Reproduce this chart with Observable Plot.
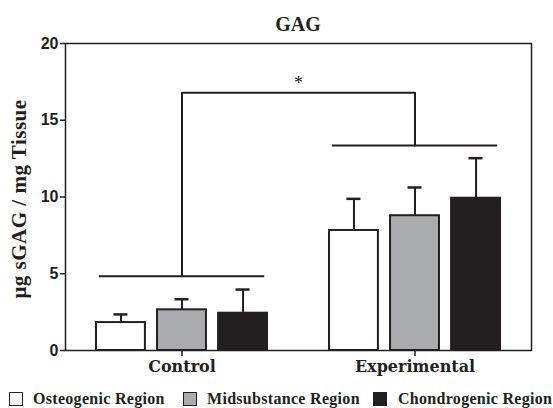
<!DOCTYPE html>
<html>
<head>
<meta charset="utf-8">
<script src="https://cdn.jsdelivr.net/npm/d3@7"></script>
<script src="https://cdn.jsdelivr.net/npm/@observablehq/plot@0.6"></script>
<style>
  html, body { margin: 0; padding: 0; background: #fff; }
  #wrap { position: relative; width: 553px; height: 408px; overflow: hidden; background: #fff; }
  #title { position: absolute; top: 14px; left: 65px; width: 466px; text-align: center;
    font: bold 20px "Liberation Serif", serif; line-height: 20px; color: #231f20; }
  #ylabel { position: absolute; left: 19px; top: 199px; transform: translate(-50%, -50%) rotate(-90deg);
    white-space: nowrap; font: bold 21px "Liberation Serif", serif; letter-spacing: 0.5px; color: #231f20; }
  #chart { position: absolute; left: 0; top: 0; }
  .sw { position: absolute; top: 392px; width: 12px; height: 12px; border: 1.5px solid #231f20; }
  .lt { position: absolute; top: 391px; font: bold 16px "Liberation Serif", serif; letter-spacing: 0.3px;
    color: #231f20; white-space: nowrap; line-height: 16px; }
</style>
</head>
<body>
<div id="wrap">
  <div id="chart"></div>
  <div id="title">GAG</div>
  <div id="ylabel">μg sGAG / mg Tissue</div>
  <div id="legend"></div>
</div>
<script>
// ---- data ----
const groups = ["Control", "Experimental"];
const regions = ["Osteogenic Region", "Midsubstance Region", "Chondrogenic Region"];
const regionColors = ["#ffffff", "#abacaf", "#231f20"];
const controlMean = [1.82, 2.65, 2.43];
const controlErr = [0.53, 0.69, 1.54];
const experimentalMean = [7.82, 8.78, 9.92];
const experimentalErr = [2.06, 1.84, 2.61];
const groupBarLevel = [4.84, 13.36];   // horizontal lines over each group
const bracketLevel = 16.79;            // top significance bracket
const yTicks = [0, 5, 10, 15, 20];
const sigLabel = "*";

// ---- table ----
const means = [controlMean, experimentalMean];
const errs = [controlErr, experimentalErr];
const spacing = 0.262, barW = 0.21, capHalf = 0.03, groupHalf = 0.355;
const rows = [];
groups.forEach((g, gi) => regions.forEach((r, ri) => {
  const c = gi + (ri - 1) * spacing;
  rows.push({group: g, region: r, c, mean: means[gi][ri], top: means[gi][ri] + errs[gi][ri]});
}));
const bracketPath = [
  {x: 0, y: groupBarLevel[0]}, {x: 0, y: bracketLevel},
  {x: 1, y: bracketLevel}, {x: 1, y: groupBarLevel[1]}
];
const groupLines = groups.map((g, gi) => ({x1: gi - groupHalf, x2: gi + groupHalf, y: groupBarLevel[gi]}));

const ink = "#231f20";
const plot = Plot.plot({
  width: 553, height: 380,
  marginTop: 43, marginBottom: 30, marginLeft: 65, marginRight: 22,
  x: {type: "linear", domain: [-0.5, 1.5]},
  y: {domain: [0, 20]},
  color: {domain: regions, range: regionColors},
  style: {background: "transparent", color: ink},
  marks: [
    Plot.rectY(rows, {x1: d => d.c - barW / 2, x2: d => d.c + barW / 2, y1: 0, y2: "mean",
      fill: "region", stroke: ink, strokeWidth: 2}),
    Plot.ruleX(rows, {x: "c", y1: "mean", y2: "top", stroke: ink, strokeWidth: 2}),
    Plot.ruleY(rows, {y: "top", x1: d => d.c - capHalf, x2: d => d.c + capHalf, stroke: ink, strokeWidth: 2.5}),
    Plot.ruleY(groupLines, {y: "y", x1: "x1", x2: "x2", stroke: ink, strokeWidth: 2}),
    Plot.line(bracketPath, {x: "x", y: "y", stroke: ink, strokeWidth: 2}),
    Plot.text([sigLabel], {x: () => 0.5, y: () => bracketLevel, text: d => d, lineAnchor: "bottom", dy: -4,
      fontSize: 18, fontFamily: "Liberation Serif", fill: ink}),
    Plot.frame({stroke: ink, strokeWidth: 1.5}),
    Plot.axisY({ticks: yTicks, tickSize: 5, tickPadding: 2, label: null, stroke: ink, strokeWidth: 1.5,
      fontSize: 16, fontWeight: "bold", fontFamily: "Liberation Sans", fill: ink}),
    Plot.axisX({ticks: [0, 1], tickFormat: i => groups[i], tickSize: 6, tickPadding: 4, label: null,
      stroke: ink, strokeWidth: 1.5, fontSize: 16, fontWeight: "bold", fontFamily: "DejaVu Serif", fill: ink})
  ]
});
document.getElementById("chart").appendChild(plot);

// ---- legend ----
const swatchLeft = [9, 183, 373];
const textLeft = [33, 207, 398];
const legend = document.getElementById("legend");
regions.forEach((r, i) => {
  const sw = document.createElement("div");
  sw.className = "sw";
  sw.style.left = swatchLeft[i] + "px";
  sw.style.background = regionColors[i];
  const t = document.createElement("div");
  t.className = "lt";
  t.style.left = textLeft[i] + "px";
  t.textContent = r;
  legend.appendChild(sw); legend.appendChild(t);
});
</script>
</body>
</html>
